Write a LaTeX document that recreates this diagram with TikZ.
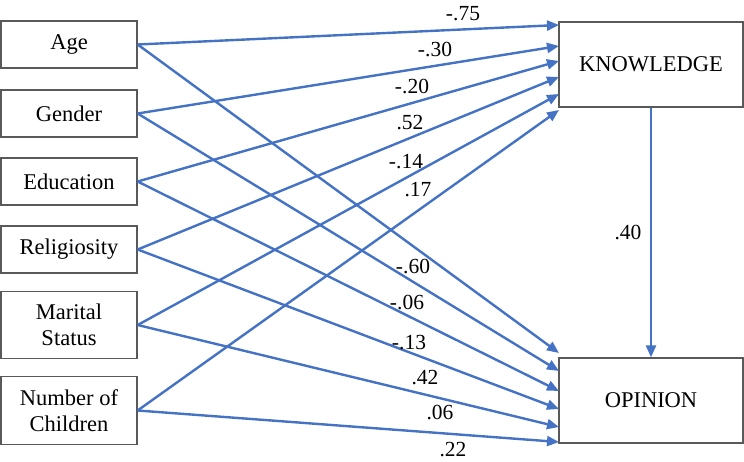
\documentclass[tikz,border=0pt]{standalone}
\usepackage{fontspec}
\setmainfont{Liberation Serif}
\usetikzlibrary{arrows.meta}
\definecolor{lineblue}{HTML}{4472C4}
\definecolor{boxgray}{HTML}{595959}
\begin{document}
\begin{tikzpicture}[x=1pt,y=-1pt,
  box/.style={draw=boxgray, line width=1.3pt, fill=white, inner sep=0pt, align=center,
    font=\fontsize{22.5}{26.5}\selectfont},
  smallbox/.style={box, minimum width=136pt, minimum height=47pt},
  tallbox/.style={box, minimum width=136pt, minimum height=67.5pt},
  bigbox/.style={box, minimum width=184pt, minimum height=85pt},
  pathline/.style={draw=lineblue, line width=2.4pt, -{Triangle[length=12pt,width=10pt]}},
  coef/.style={font=\fontsize{21.5}{24}\selectfont, inner sep=0pt}]
\useasboundingbox (0,0) rectangle (744,462);

% predictor boxes
\node[smallbox] (age) at (69,44.5) {Age};
\node[smallbox] (gen) at (69,113.5) {Gender};
\node[smallbox] (edu) at (69,181.5) {Education};
\node[smallbox] (rel) at (69,249.5) {Religiosity};
\node[tallbox] (mar) at (69,325) {Marital\\Status};
\node[tallbox] (num) at (69,410.5) {Number of\\Children};

% outcome boxes
\node[bigbox] (kno) at (651,64.5) {KNOWLEDGE};
\node[bigbox] (opi) at (651,400.5) {OPINION};

% arrow end points
\coordinate (k1) at (559,25);
\coordinate (k2) at (559,46);
\coordinate (k3) at (559,61);
\coordinate (k4) at (559,77);
\coordinate (k5) at (559,94);
\coordinate (k6) at (559,110);
\coordinate (o1) at (559,353);
\coordinate (o2) at (559,371);
\coordinate (o3) at (559,391);
\coordinate (o4) at (559,409);
\coordinate (o5) at (559,427);
\coordinate (o6) at (559,442);

% paths to KNOWLEDGE
\draw[pathline] (age.east) -- (k1);
\draw[pathline] (gen.east) -- (k2);
\draw[pathline] (edu.east) -- (k3);
\draw[pathline] (rel.east) -- (k4);
\draw[pathline] (mar.east) -- (k5);
\draw[pathline] (num.east) -- (k6);

% paths to OPINION
\draw[pathline] (age.east) -- (o1);
\draw[pathline] (gen.east) -- (o2);
\draw[pathline] (edu.east) -- (o3);
\draw[pathline] (rel.east) -- (o4);
\draw[pathline] (mar.east) -- (o5);
\draw[pathline] (num.east) -- (o6);

% KNOWLEDGE -> OPINION
\draw[pathline] (kno.south) -- (opi.north);

% coefficients
\node[coef] (c1) at (463,14) {-.75};
\node[coef] (c2) at (435,50) {-.30};
\node[coef] (c3) at (412,87) {-.20};
\node[coef] (c4) at (410,123) {.52};
\node[coef] (c5) at (406,162) {-.14};
\node[coef] (c6) at (418,190) {.17};
\node[coef] (c7) at (413,267) {-.60};
\node[coef] (c8) at (407,303) {-.06};
\node[coef] (c9) at (409,343) {-.13};
\node[coef] (c10) at (425,378) {.42};
\node[coef] (c11) at (440,413) {.06};
\node[coef] (c12) at (453,450) {.22};
\node[coef] (c13) at (628,233) {.40};
\end{tikzpicture}
\end{document}
